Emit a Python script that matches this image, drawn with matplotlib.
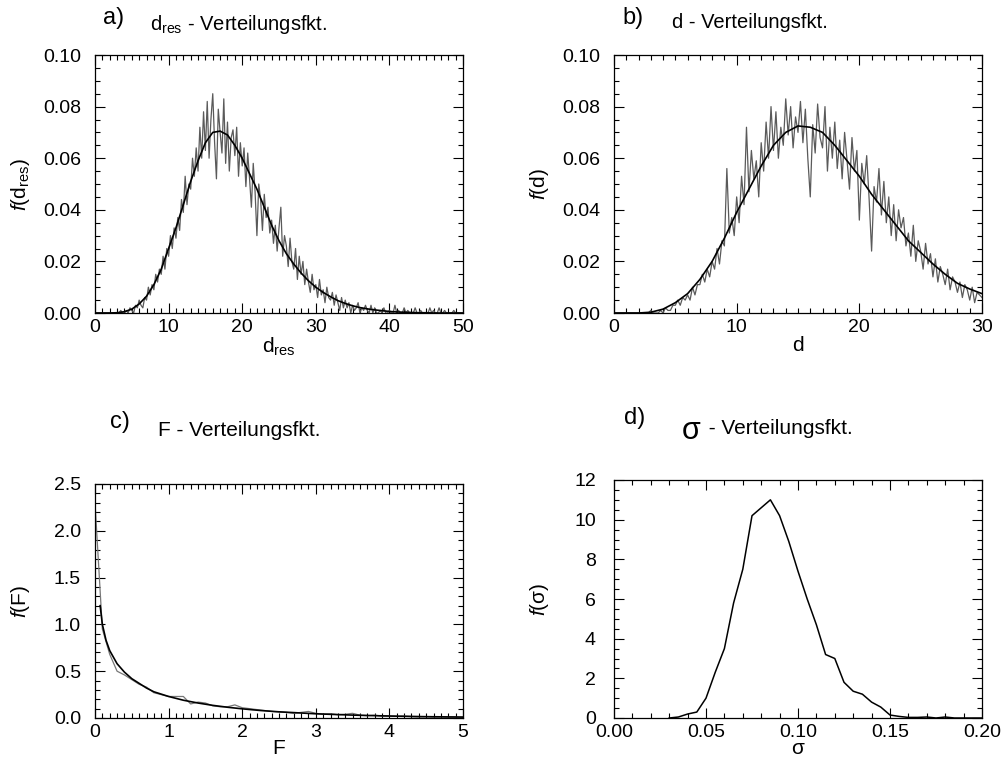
import numpy as np
import matplotlib
matplotlib.use("Agg")
import matplotlib.pyplot as plt
from matplotlib.ticker import MultipleLocator, FormatStrFormatter

plt.rcParams["font.family"] = ["Liberation Sans", "DejaVu Sans"]
plt.rcParams["mathtext.fontset"] = "custom"
plt.rcParams["mathtext.rm"] = "Liberation Sans"
plt.rcParams["mathtext.it"] = "Liberation Sans:italic"
plt.rcParams["font.size"] = 14

# a) d_res histogram, step 0.25 (values in 1e-3)
dres_step = 0.25
dres_hist_milli = [
    0, 0, 0, 0,  0, 0, 0, 0,  0, 0, 0, 0,  0, 0, 1, 0,  0, 1, 0, 2,
    1, 0, 3, 2,  5, 3, 2, 6,  5, 10, 7, 11,  9, 15, 12, 17,  15, 22, 17, 25,
    22, 30, 25, 33,  29, 37, 32, 44,  39, 53, 42, 50,  48, 60, 53, 64,  55, 72, 60, 78,
    63, 82, 60, 75,  85, 66, 52, 79,  70, 62, 83, 58,  74, 55, 68, 71,  61, 72, 53, 66,
    57, 64, 49, 62,  52, 41, 58, 47,  30, 50, 44, 32,  46, 37, 41, 31,  36, 27, 34, 24,
    33, 41, 22, 30,  26, 18, 29, 20,  17, 25, 13, 22,  15, 20, 11, 17,  12, 8, 15, 9,
    11, 6, 13, 7,  9, 4, 10, 6,  5, 8, 3, 7,  4, 1, 6, 2,  5, 2, 4, 0,
    3, 1, 2, 4,  0, 2, 1, 3,  1, 0, 3, 0,  2, 0, 0, 1,  0, 2, 0, 0,
    1, 0, 0, 3,  0, 1, 0, 0,  2, 0, 1, 0,  0, 0, 2, 0,  0, 1, 0, 0,
    0, 0, 2, 0,  1, 0, 0, 2,  0, 0, 1, 0,  0, 0, 0, 1,  0, 0, 0, 0,
    0,
]
# fitted curve, d_res = 0..50
dres_fit = [
    0, 0, 0, 0.0001, 0.0005, 0.0015, 0.0035, 0.0065, 0.011, 0.017,
    0.025, 0.033, 0.042, 0.051, 0.059, 0.066, 0.070, 0.0705, 0.069, 0.065,
    0.060, 0.054, 0.048, 0.041, 0.034, 0.028, 0.023, 0.019, 0.0155, 0.0125,
    0.010, 0.008, 0.0063, 0.0048, 0.0037, 0.0028, 0.0021, 0.0016, 0.0012, 0.0009,
    0.0006, 0.0004, 0.0003, 0.0002, 0.0001, 0.0001, 0, 0, 0, 0, 0,
]

# b) d histogram, step 0.2 (values in 1e-3)
d_step = 0.2
d_hist_milli = [
    0, 0, 0, 0, 0,  0, 0, 0, 0, 0,  0, 0, 0, 0, 0,  1, 0, 0, 0, 1,  0, 2, 1, 1, 3,
    3, 5, 3, 6, 5,  7, 5, 10, 7, 11,  11, 15, 12, 17, 14,  20, 17, 25, 19, 28,  26, 56, 31, 37, 30,
    45, 35, 53, 42, 72,  47, 63, 52, 59, 45,  66, 55, 74, 60, 80,  63, 78, 60, 72, 65,  83, 69, 80, 64, 76,
    70, 82, 66, 79, 60,  45, 73, 62, 81, 68,  64, 80, 55, 72, 60,  74, 56, 67, 52, 70,  59, 48, 68, 55, 63,
    36, 58, 50, 61, 44,  24, 49, 43, 56, 38,  51, 35, 45, 30, 42,  28, 40, 33, 37, 26,  31, 22, 34, 20, 28,
    24, 17, 27, 19, 23,  14, 21, 12, 18, 15,  11, 17, 9, 14, 12,  8, 12, 6, 11, 9,  5, 10, 4, 8, 7,
    6,
]
# fitted curve, d = 0..30
d_fit = [
    0, 0, 0, 0.0003, 0.0015, 0.004, 0.0075, 0.013, 0.020, 0.029,
    0.039, 0.048, 0.057, 0.065, 0.070, 0.0725, 0.072, 0.070, 0.065, 0.059,
    0.053, 0.046, 0.040, 0.034, 0.028, 0.0235, 0.019, 0.015, 0.0115, 0.0093,
    0.0075,
]

# c) F distribution
F_data = [0.0, 0.1, 0.2, 0.3, 0.4, 0.5, 0.6, 0.7, 0.8, 0.9, 1.0, 1.1, 1.2, 1.3, 1.4,
          1.5, 1.6, 1.7, 1.8, 1.9, 2.0, 2.1, 2.2, 2.3, 2.4, 2.5, 2.6, 2.7, 2.8, 2.9,
          3.0, 3.1, 3.2, 3.3, 3.4, 3.5, 3.6, 3.7, 3.8, 3.9, 4.0, 4.1, 4.2, 4.3, 4.4,
          4.5, 4.6, 4.7, 4.8, 4.9, 5.0]
fF_data = [2.30, 0.95, 0.68, 0.50, 0.46, 0.41, 0.36, 0.33, 0.27, 0.25, 0.23, 0.23, 0.23, 0.15, 0.17,
           0.16, 0.13, 0.12, 0.12, 0.14, 0.11, 0.10, 0.09, 0.08, 0.07, 0.065, 0.06, 0.05, 0.06, 0.07,
           0.05, 0.04, 0.045, 0.035, 0.04, 0.05, 0.03, 0.025, 0.03, 0.02, 0.022, 0.018, 0.02, 0.015, 0.012,
           0.015, 0.01, 0.012, 0.008, 0.01, 0.008]
F_fit = [0.07, 0.1, 0.15, 0.2, 0.3, 0.4, 0.5, 0.6, 0.7, 0.8, 0.9, 1.0, 1.2, 1.4, 1.6,
         1.8, 2.0, 2.25, 2.5, 3.0, 3.5, 4.0, 4.5, 5.0]
fF_fit = [1.20, 1.00, 0.83, 0.72, 0.58, 0.49, 0.42, 0.37, 0.32, 0.28, 0.255, 0.23, 0.19, 0.16, 0.135,
          0.115, 0.098, 0.08, 0.066, 0.045, 0.031, 0.021, 0.014, 0.010]

# d) sigma distribution
sigma = [0.030, 0.035, 0.040, 0.045, 0.050, 0.055, 0.060, 0.065, 0.070, 0.075,
         0.080, 0.085, 0.090, 0.095, 0.100, 0.105, 0.110, 0.115, 0.120, 0.125,
         0.130, 0.135, 0.140, 0.145, 0.150, 0.155, 0.160, 0.165, 0.170, 0.175,
         0.180, 0.185, 0.190, 0.195, 0.200]
f_sigma = [0.0, 0.05, 0.2, 0.3, 1.0, 2.3, 3.5, 5.8, 7.5, 10.2,
           10.6, 11.0, 10.2, 8.9, 7.4, 6.0, 4.7, 3.2, 3.0, 1.8,
           1.35, 1.2, 0.8, 0.55, 0.15, 0.08, 0.03, 0.03, 0.05, 0.0,
           0.05, 0.0, 0.0, 0.0, 0.0]

W, H = 1004, 765
fig = plt.figure(figsize=(W / 100, H / 100), dpi=100)


def box(l, t, r, b):
    return [l / W, 1 - b / H, (r - l) / W, (b - t) / H]


def style(ax, xmaj, xmin, ymaj, ymin, xfmt, yfmt, ypad=10):
    ax.xaxis.set_major_locator(MultipleLocator(xmaj))
    ax.xaxis.set_minor_locator(MultipleLocator(xmin))
    ax.yaxis.set_major_locator(MultipleLocator(ymaj))
    ax.yaxis.set_minor_locator(MultipleLocator(ymin))
    ax.xaxis.set_major_formatter(FormatStrFormatter(xfmt))
    ax.yaxis.set_major_formatter(FormatStrFormatter(yfmt))
    ax.tick_params(which="both", direction="in", top=True, right=True, width=0.8)
    ax.tick_params(which="major", length=7, labelsize=14)
    ax.tick_params(axis="y", which="major", pad=ypad)
    ax.tick_params(axis="x", which="major", pad=4)
    ax.tick_params(which="minor", length=3.5)
    for s in ax.spines.values():
        s.set_linewidth(0.9)


gray = "#5a5a5a"

# a)
ax1 = fig.add_axes(box(95, 55, 463, 313))
x1 = np.arange(len(dres_hist_milli)) * dres_step
ax1.plot(x1, np.array(dres_hist_milli) / 1000, color=gray, lw=0.9)
ax1.plot(np.arange(len(dres_fit)), dres_fit, color="black", lw=1.2)
ax1.set_xlim(0, 50)
ax1.set_ylim(0, 0.10)
style(ax1, 10, 1, 0.02, 0.005, "%d", "%.2f")
ax1.set_xlabel(r"d$_{\mathrm{res}}$", fontsize=15, labelpad=0)
ax1.set_ylabel(r"$f$(d$_{\mathrm{res}}$)", fontsize=15)
ax1.yaxis.set_label_coords(-0.17, 0.5)

# b)
ax2 = fig.add_axes(box(614, 55, 982, 313))
x2 = np.arange(len(d_hist_milli)) * d_step
ax2.plot(x2, np.array(d_hist_milli) / 1000, color=gray, lw=0.9)
ax2.plot(np.arange(len(d_fit)), d_fit, color="black", lw=1.2)
ax2.set_xlim(0, 30)
ax2.set_ylim(0, 0.10)
style(ax2, 10, 1, 0.02, 0.005, "%d", "%.2f")
ax2.set_xlabel("d", fontsize=15, labelpad=0)
ax2.set_ylabel(r"$f$(d)", fontsize=15)
ax2.yaxis.set_label_coords(-0.17, 0.5)

# c)
ax3 = fig.add_axes(box(95, 484, 463, 718))
ax3.plot(F_data, fF_data, color="#777777", lw=0.9)
ax3.plot(F_fit, fF_fit, color="black", lw=1.2)
ax3.set_xlim(0, 5)
ax3.set_ylim(0, 2.5)
style(ax3, 1, 0.1, 0.5, 0.1, "%d", "%.1f")
ax3.set_xlabel("F", fontsize=15, labelpad=-1)
ax3.set_ylabel(r"$f$(F)", fontsize=15)
ax3.yaxis.set_label_coords(-0.17, 0.5)

# d)
ax4 = fig.add_axes(box(614, 480, 982, 718))
ax4.plot(sigma, f_sigma, color="black", lw=1.1)
ax4.set_xlim(0, 0.20)
ax4.set_ylim(0, 12)
style(ax4, 0.05, 0.01, 2, 0.5, "%.2f", "%d", ypad=13)
ax4.set_xlabel("σ", fontsize=15, labelpad=-1)
ax4.set_ylabel(r"$f$(σ)", fontsize=15)
ax4.yaxis.set_label_coords(-0.17, 0.5)

# panel letters and titles
def label(x, y, s, size):
    fig.text(x / W, 1 - y / H, s, fontsize=size, ha="left", va="center")

label(103, 18, "a)", 17)
label(150, 24, r"d$_{\mathrm{res}}$ - Verteilungsfkt.", 14.5)
label(622, 18, "b)", 17)
label(672, 23, "d - Verteilungsfkt.", 14.5)
label(110, 422, "c)", 17)
label(158, 430, "F - Verteilungsfkt.", 15)
label(624, 418, "d)", 17)
fig.text(682 / W, 1 - 431 / H, "σ", fontsize=22, ha="left", va="center")
label(703, 428, " - Verteilungsfkt.", 15)

fig.savefig("out.png", dpi=100)
